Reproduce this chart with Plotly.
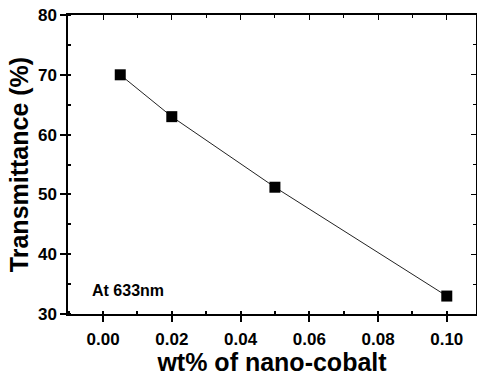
import plotly.graph_objects as go

wt_percent = [0.005, 0.02, 0.05, 0.10]
transmittance = [70.0, 63.0, 51.2, 33.0]
x_ticks = [0.00, 0.02, 0.04, 0.06, 0.08, 0.10]
x_tick_labels = ["0.00", "0.02", "0.04", "0.06", "0.08", "0.10"]
y_ticks = [30, 40, 50, 60, 70, 80]
y_tick_labels = ["30", "40", "50", "60", "70", "80"]
x_range = [-0.0102, 0.1085]
y_range = [30, 80]

font_family = "Liberation Sans, Arial, sans-serif"

fig = go.Figure()
fig.add_trace(go.Scatter(
    x=wt_percent, y=transmittance, mode="lines+markers",
    line=dict(color="#222222", width=1),
    marker=dict(symbol="square", size=11, color="black"),
    showlegend=False,
))

axis_common = dict(
    showline=True, linecolor="black", linewidth=1.5,
    ticklen=6, tickwidth=1.5, tickcolor="black",
    showgrid=False, zeroline=False, ticklabeloverflow="allow", automargin=False,
    tickfont=dict(family=font_family, size=17, color="black"),
)
fig.update_layout(
    xaxis=dict(
        range=x_range, tickvals=x_ticks, ticktext=["<b>%s</b>" % t for t in x_tick_labels],
        ticks="outside", ticklabelstandoff=3,
        minor=dict(ticks="inside", ticklen=3, tickcolor="black", dtick=0.01, tick0=0),
        title=dict(text="<b>wt% of nano-cobalt</b>", font=dict(family=font_family, size=25, color="black"), standoff=3),
        **axis_common,
    ),
    yaxis=dict(
        range=y_range, tickvals=y_ticks, ticktext=["<b>%s</b>" % t for t in y_tick_labels],
        ticks="outside",
        minor=dict(ticks="inside", ticklen=3, tickcolor="black", dtick=5, tick0=0),
        title=dict(text="<b>Transmittance (%)</b>", font=dict(family=font_family, size=25, color="black"), standoff=2),
        **axis_common,
    ),
    xaxis2=dict(
        overlaying="x", side="top", range=x_range, tickvals=x_ticks, showticklabels=False,
        ticks="inside", ticklen=5, tickwidth=1, tickcolor="black",
        minor=dict(ticks="inside", ticklen=3, tickcolor="black", dtick=0.01, tick0=0),
        showline=True, linecolor="black", linewidth=1.5, showgrid=False, zeroline=False,
    ),
    yaxis2=dict(
        overlaying="y", side="right", range=y_range, tickvals=y_ticks, showticklabels=False,
        ticks="inside", ticklen=5, tickwidth=1, tickcolor="black",
        minor=dict(ticks="inside", ticklen=3, tickcolor="black", dtick=5, tick0=0),
        showline=True, linecolor="black", linewidth=1.5, showgrid=False, zeroline=False,
    ),
)
fig.add_trace(go.Scatter(x=[None], y=[None], xaxis="x2", yaxis="y2", showlegend=False, hoverinfo="skip"))

fig.add_annotation(
    x=0, y=0, xref="paper", yref="paper", text="<b>At 633nm</b>",
    showarrow=False, xanchor="left", yanchor="bottom", xshift=22, yshift=13,
    font=dict(family=font_family, size=16, color="black"),
)
fig.update_layout(
    width=477, height=376,
    margin=dict(l=68, r=1, t=15, b=62),
    paper_bgcolor="white", plot_bgcolor="white",
)
fig.write_html("out.html", config={"displayModeBar": False},
               post_script="document.body.style.margin='0';")
